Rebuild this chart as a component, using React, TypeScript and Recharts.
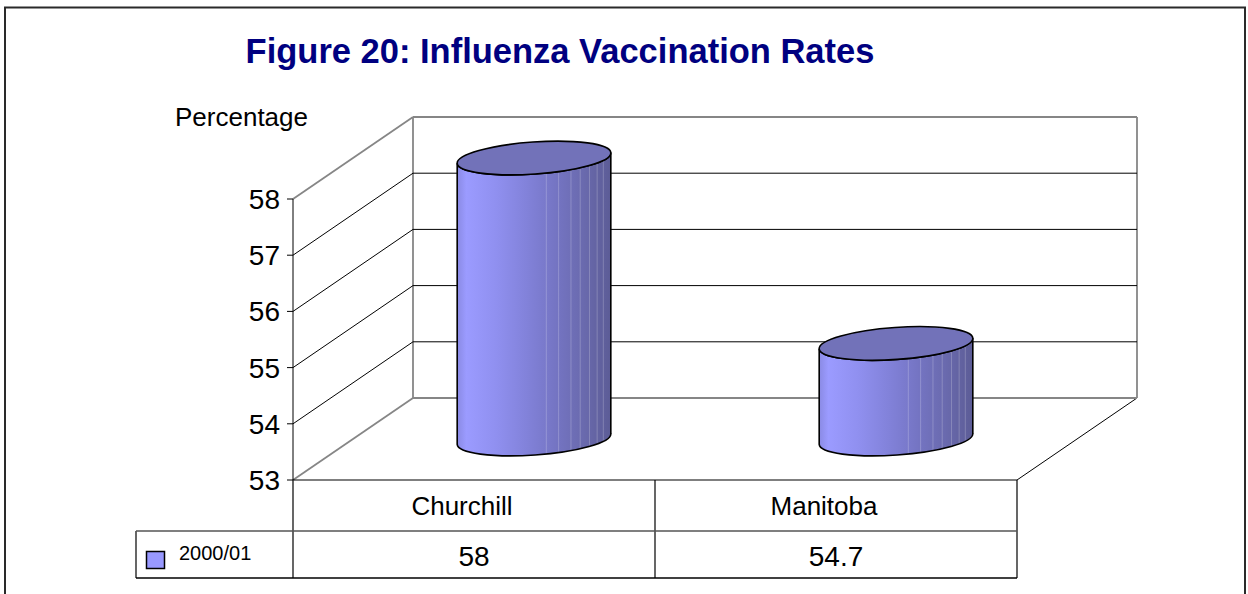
import { BarChart, Bar, XAxis, YAxis, CartesianGrid } from "recharts";

const categories = ["Churchill", "Manitoba"];
const rates = [58, 54.7];
const seriesName = "2000/01";
const yTicks = [53, 54, 55, 56, 57, 58];

const data = categories.map((name, i) => ({ name, value: rates[i] }));

const FONT = "'Liberation Sans', Arial, sans-serif";
const W = 1248;
const H = 594;
// 3d depth offset of the back wall
const DX = 120;
const DY = -82;
const PLOT = { left: 293, right: 1017, top: 199, bottom: 480 };
const GRAY = "#868686";

function Cylinder(props: any) {
  const { x, y, width, height, index } = props;
  const rx = width / 2;
  const ry = 16;
  const rot = -4;
  const c = Math.cos((rot * Math.PI) / 180);
  const s = Math.sin((rot * Math.PI) / 180);
  const cx = x + rx + DX / 2;
  const top = y + DY / 2;
  const bot = y + height + DY / 2;
  const lx = cx - rx * c;
  const rxp = cx + rx * c;
  const ly = -rx * s;
  const ryo = rx * s;
  const id = `cyl-grad-${index}`;
  const body = `M ${lx} ${top + ly} L ${lx} ${bot + ly} A ${rx} ${ry} ${rot} 0 0 ${rxp} ${bot + ryo} L ${rxp} ${top + ryo} A ${rx} ${ry} ${rot} 0 1 ${lx} ${top + ly} Z`;
  const stripes = [0.58, 0.66, 0.74, 0.8, 0.86, 0.91, 0.95];
  return (
    <g>
      <defs>
        <linearGradient id={id} x1="0" y1="0" x2="1" y2="0">
          <stop offset="0" stopColor="#8a8ae4" />
          <stop offset="0.06" stopColor="#9b9bff" />
          <stop offset="0.25" stopColor="#9090f0" />
          <stop offset="0.45" stopColor="#8282da" />
          <stop offset="0.65" stopColor="#7474c2" />
          <stop offset="0.82" stopColor="#6a6aae" />
          <stop offset="1" stopColor="#5c5c96" />
        </linearGradient>
      </defs>
      <path d={body} fill={`url(#${id})`} stroke="none" />
      {stripes.map((f) => {
        const u = 2 * f - 1;
        const sx = cx + u * rx;
        const off = u * rx * s + ry * Math.sqrt(1 - u * u);
        return (
          <line key={f} x1={sx} y1={top + off} x2={sx} y2={bot + off} stroke="rgba(255,255,255,0.22)" strokeWidth={1} />
        );
      })}
      <path d={body} fill="none" stroke="#000" strokeWidth={1.6} />
      <ellipse cx={cx} cy={top} rx={rx} ry={ry} transform={`rotate(${rot} ${cx} ${top})`} fill="#7272b9" stroke="#000" strokeWidth={1.6} />
    </g>
  );
}

function renderGridLine(p: any) {
  const { x1, y1, x2 } = p;
  const edge = Math.abs(y1 - PLOT.top) < 1.5 || Math.abs(y1 - PLOT.bottom) < 1.5;
  const color = edge ? GRAY : "#000";
  const sw = edge ? 1.8 : 1;
  return (
    <g key={p.key ?? `g-${y1}`}>
      <line x1={x1} y1={y1} x2={x1 + DX} y2={y1 + DY} stroke={color} strokeWidth={sw} />
      <line x1={x1 + DX} y1={y1 + DY} x2={x2 + DX} y2={y1 + DY} stroke={color} strokeWidth={sw} />
    </g>
  );
}

function YTick(props: any) {
  const { x, y, payload } = props;
  return (
    <text x={x - 5} y={y + 10} textAnchor="end" fontSize={28} fontFamily={FONT} fill="#000">
      {payload.value}
    </text>
  );
}

function TableTick(props: any) {
  const { x, index, payload } = props;
  return (
    <g>
      <text x={x - 12} y={515} textAnchor="middle" fontSize={26} fontFamily={FONT} fill="#000">
        {payload.value}
      </text>
      <text x={x} y={566} textAnchor="middle" fontSize={28} fontFamily={FONT} fill="#000">
        {rates[index]}
      </text>
    </g>
  );
}

function Backdrop() {
  const mid = (PLOT.left + PLOT.right) / 2;
  return (
    <svg width={W} height={H} style={{ position: "absolute", left: 0, top: 0 }}>
      <rect x={5} y={7.5} width={1240} height={640} fill="#fff" stroke="#2a2a2a" strokeWidth={2} />
      <text x={560} y={63} textAnchor="middle" fontSize={34.5} fontWeight="bold" fontFamily={FONT} fill="#000080">
        Figure 20: Influenza Vaccination Rates
      </text>
      <text x={175} y={126} fontSize={26} fontFamily={FONT} fill="#000">
        Percentage
      </text>
      {/* back wall edges */}
      <line x1={PLOT.left + DX} y1={PLOT.top + DY} x2={PLOT.left + DX} y2={PLOT.bottom + DY} stroke={GRAY} strokeWidth={1.8} />
      <line x1={PLOT.right + DX} y1={PLOT.top + DY} x2={PLOT.right + DX} y2={PLOT.bottom + DY} stroke={GRAY} strokeWidth={1.8} />
      <line x1={PLOT.right} y1={PLOT.bottom} x2={PLOT.right + DX} y2={PLOT.bottom + DY} stroke="#000" strokeWidth={1} />
      {/* data table */}
      <line x1={PLOT.left} y1={PLOT.bottom} x2={PLOT.left} y2={578} stroke="#000" strokeWidth={1.2} />
      <line x1={mid} y1={PLOT.bottom} x2={mid} y2={578} stroke="#000" strokeWidth={1.2} />
      <line x1={PLOT.right} y1={PLOT.bottom} x2={PLOT.right} y2={578} stroke="#000" strokeWidth={1.2} />
      <line x1={136} y1={531} x2={136} y2={578} stroke="#000" strokeWidth={1.2} />
      <line x1={136} y1={531} x2={PLOT.right} y2={531} stroke="#555" strokeWidth={1.4} />
      <line x1={136} y1={578} x2={PLOT.right} y2={578} stroke="#000" strokeWidth={1.4} />
      <rect x={146.5} y={551.5} width={18} height={17} fill="#9999ff" stroke="#000" strokeWidth={1.5} />
      <text x={179} y={560} fontSize={20} fontFamily={FONT} fill="#000">
        {seriesName}
      </text>
    </svg>
  );
}

export default function App() {
  return (
    <div style={{ position: "relative", width: W, height: H, overflow: "hidden", background: "#fff" }}>
      <style>{"body{margin:0}"}</style>
      <Backdrop />
      <div style={{ position: "absolute", left: 0, top: 0 }}>
        <BarChart
          width={W}
          height={H}
          data={data}
          margin={{ top: PLOT.top, right: W - PLOT.right, bottom: H - PLOT.bottom - 98, left: PLOT.left - 60 }}
        >
          <CartesianGrid vertical={false} horizontal={renderGridLine} />
          <YAxis
            width={60}
            domain={[53, 58]}
            ticks={yTicks}
            tick={<YTick />}
            tickLine={{ stroke: "#000" }}
            axisLine={{ stroke: "#000" }}
          />
          <XAxis
            dataKey="name"
            height={98}
            tickLine={false}
            axisLine={{ stroke: "#000", strokeWidth: 1.2 }}
            tick={<TableTick />}
            interval={0}
          />
          <Bar dataKey="value" barSize={154} isAnimationActive={false} shape={(p: any) => <Cylinder {...p} />} />
        </BarChart>
      </div>
    </div>
  );
}
